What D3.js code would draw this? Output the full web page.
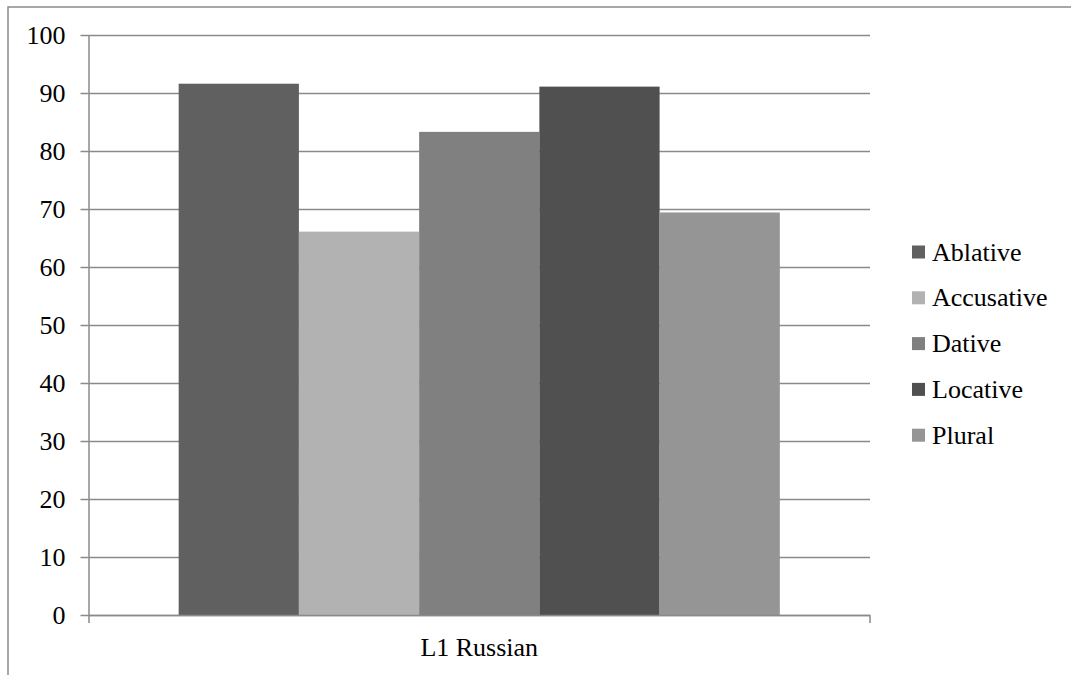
<!DOCTYPE html>
<html>
<head>
<meta charset="utf-8">
<script src="https://cdn.jsdelivr.net/npm/d3@7"></script>
<style>html,body{margin:0;padding:0}</style>
</head>
<body>
<svg id="chart" width="1071" height="675"></svg>
<script>
const categories = ["L1 Russian"];
const seriesNames = ["Ablative", "Accusative", "Dative", "Locative", "Plural"];
const seriesValues = [91.6, 66.1, 83.3, 91.1, 69.4];
const seriesColors = ["#606060", "#b2b2b2", "#808080", "#505050", "#959595"];
const yTicks = [0, 10, 20, 30, 40, 50, 60, 70, 80, 90, 100];

const svg = d3.select("#chart");
const plot = { left: 88.5, right: 870, top: 35, bottom: 615 };
const FONT = "Liberation Serif";
const FS = "26px";

svg.append("rect")
  .attr("x", 8).attr("y", 7)
  .attr("width", 1200).attr("height", 1000)
  .attr("fill", "none").attr("stroke", "#8a8a8a").attr("stroke-width", 1.5);

const y = d3.scaleLinear().domain([0, 100]).range([plot.bottom, plot.top]);
const x0 = d3.scaleBand().domain(categories).range([plot.left, plot.right]).padding(0);
const bw = x0.bandwidth();
const barW = bw / (seriesNames.length + 1.5);
const x1 = d3.scaleBand().domain(seriesNames)
  .range([barW * 0.75, bw - barW * 0.75]).padding(0);

// gridlines
const grid = svg.append("g")
  .attr("transform", `translate(${plot.left},0)`)
  .call(d3.axisLeft(y).tickValues(yTicks).tickSize(-(plot.right - plot.left)).tickFormat(""));
grid.select(".domain").remove();
grid.selectAll(".tick line").attr("stroke", "#8a8a8a").attr("stroke-width", 1.5);
grid.selectAll(".tick text").remove();

// bars
const data = seriesNames.map((s, i) => ({ cat: categories[0], name: s, value: seriesValues[i], color: seriesColors[i] }));
svg.append("g").selectAll("rect")
  .data(data).join("rect")
  .attr("x", d => x0(d.cat) + x1(d.name))
  .attr("width", x1.bandwidth())
  .attr("y", d => y(d.value))
  .attr("height", d => y(0) - y(d.value))
  .attr("fill", d => d.color);

// y axis
const yAxis = svg.append("g")
  .attr("transform", `translate(${plot.left},0)`)
  .call(d3.axisLeft(y).tickValues(yTicks).tickSize(8).tickPadding(15).tickSizeOuter(0));
yAxis.attr("font-family", null).attr("font-size", null);
yAxis.select(".domain").attr("stroke", "#8a8a8a").attr("stroke-width", 1.5)
  .attr("d", `M0.5,${plot.top}V${plot.bottom + 8}`);
yAxis.selectAll(".tick line").attr("stroke", "#8a8a8a").attr("stroke-width", 1.5);
yAxis.selectAll(".tick text")
  .style("font-family", FONT).style("font-size", FS)
  .attr("fill", "#000").attr("dy", null).attr("y", 8.5);

// x axis
const xAxis = svg.append("g")
  .attr("transform", `translate(0,${plot.bottom})`)
  .call(d3.axisBottom(x0).tickSize(0).tickPadding(30));
xAxis.attr("font-family", null).attr("font-size", null);
xAxis.select(".domain").attr("stroke", "#8a8a8a").attr("stroke-width", 1.5)
  .attr("d", `M${plot.left},0.5H${plot.right}V8`);
xAxis.selectAll(".tick text")
  .style("font-family", FONT).style("font-size", FS)
  .attr("fill", "#000").attr("dy", null).attr("y", 41);

// legend
const legStartY = 252, legStep = 45.8;
const items = svg.append("g").selectAll("g").data(data).join("g")
  .attr("transform", (d, i) => `translate(912,${legStartY + i * legStep})`);
items.append("rect").attr("x", 0).attr("y", -6.5).attr("width", 13).attr("height", 13)
  .attr("fill", d => d.color);
items.append("text").attr("x", 20).attr("y", 8.5)
  .style("font-family", FONT).style("font-size", FS).attr("fill", "#000")
  .text(d => d.name);
</script>
</body>
</html>
